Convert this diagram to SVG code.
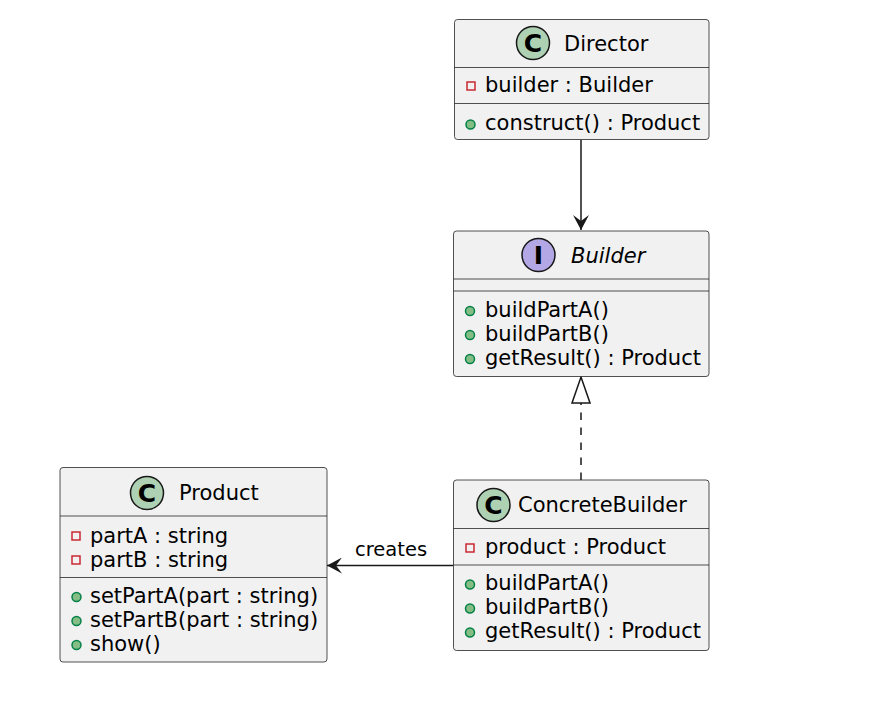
<svg xmlns="http://www.w3.org/2000/svg" width="878" height="707" viewBox="0 0 878 707">
<defs>
<style>
.box{fill:#F1F1F1;stroke:#181818;stroke-width:0.75}
.sep{stroke:#181818;stroke-width:0.75}
.t{font-family:"DejaVu Sans",sans-serif;font-size:21px;fill:#000}
.title{font-family:"DejaVu Sans",sans-serif;font-size:21px;fill:#000}
.lbl{font-family:"DejaVu Sans",sans-serif;font-size:19.5px;fill:#000}
.ci{fill:#ADD1B2;stroke:#181818;stroke-width:1.5}
.ii{fill:#B4A7E5;stroke:#181818;stroke-width:1.5}
.glyph{font-family:"DejaVu Sans",sans-serif;font-size:25px;font-weight:bold;fill:#000}
.priv{fill:none;stroke:#C82930;stroke-width:1.5}
.pub{fill:#84BE84;stroke:#038048;stroke-width:1.5}
.edge{stroke:#181818;stroke-width:1.5;fill:none}
</style>
<marker id="filled" viewBox="0 0 15 16" refX="15" refY="8" markerWidth="15" markerHeight="16" orient="auto" markerUnits="userSpaceOnUse">
<path d="M0,0 L15,8 L0,16 L6,8 Z" fill="#181818"/>
</marker>
<marker id="hollow" viewBox="0 0 28 20" refX="27" refY="10" markerWidth="28" markerHeight="20" orient="auto" markerUnits="userSpaceOnUse">
<path d="M1,1 L27,10 L1,19 Z" fill="#FFFFFF" stroke="#181818" stroke-width="1.5"/>
</marker>
</defs>
<rect width="878" height="707" fill="#FFFFFF"/>

<g id="connectors">
<line class="edge" x1="581" y1="140" x2="581" y2="230" marker-end="url(#filled)"/>
<line class="edge" x1="581" y1="480" x2="581" y2="377" stroke-dasharray="7.5,7.5" marker-end="url(#hollow)"/>
<line class="edge" x1="453" y1="565.5" x2="327" y2="565.5" marker-end="url(#filled)"/>
<text class="lbl" x="355" y="555.5">creates</text>
</g>

<g id="Director">
<rect class="box" x="454.5" y="19.5" width="254.5" height="120" rx="3"/>
<circle class="ci" cx="533" cy="43" r="16.5"/>
<text class="glyph" x="533" y="52" text-anchor="middle">C</text>
<text class="title" x="564" y="50.5">Director</text>
<line class="sep" x1="454.5" y1="67.5" x2="709" y2="67.5"/>
<rect class="priv" x="467" y="82" width="8" height="8"/>
<text class="t" x="485" y="92">builder : Builder</text>
<line class="sep" x1="454.5" y1="103.5" x2="709" y2="103.5"/>
<circle class="pub" cx="470.5" cy="124.5" r="4.5"/>
<text class="t" x="485" y="130">construct() : Product</text>
</g>

<g id="Builder">
<rect class="box" x="453.5" y="231" width="255.5" height="145.5" rx="3"/>
<circle class="ii" cx="538.5" cy="255" r="16.5"/>
<text class="glyph" x="538.5" y="264" text-anchor="middle">I</text>
<text class="title" x="571" y="262.5" font-style="italic">Builder</text>
<line class="sep" x1="453.5" y1="279" x2="709" y2="279"/>
<line class="sep" x1="453.5" y1="291" x2="709" y2="291"/>
<circle class="pub" cx="470" cy="311" r="4.5"/>
<text class="t" x="485" y="316.5">buildPartA()</text>
<circle class="pub" cx="470" cy="335" r="4.5"/>
<text class="t" x="485" y="340.5">buildPartB()</text>
<circle class="pub" cx="470" cy="359" r="4.5"/>
<text class="t" x="485" y="364.5">getResult() : Product</text>
</g>

<g id="ConcreteBuilder">
<rect class="box" x="453.5" y="480" width="255.5" height="170.5" rx="3"/>
<circle class="ci" cx="493.5" cy="505" r="16.5"/>
<text class="glyph" x="493.5" y="514" text-anchor="middle">C</text>
<text class="title" x="518" y="512">ConcreteBuilder</text>
<line class="sep" x1="453.5" y1="528.5" x2="709" y2="528.5"/>
<rect class="priv" x="466" y="544" width="8" height="8"/>
<text class="t" x="485" y="554">product : Product</text>
<line class="sep" x1="453.5" y1="565" x2="709" y2="565"/>
<circle class="pub" cx="470" cy="584.5" r="4.5"/>
<text class="t" x="485" y="590">buildPartA()</text>
<circle class="pub" cx="470" cy="608.5" r="4.5"/>
<text class="t" x="485" y="614">buildPartB()</text>
<circle class="pub" cx="470" cy="632.5" r="4.5"/>
<text class="t" x="485" y="638">getResult() : Product</text>
</g>

<g id="Product">
<rect class="box" x="60" y="467.5" width="267" height="194.5" rx="3"/>
<circle class="ci" cx="147" cy="493" r="16.5"/>
<text class="glyph" x="147" y="502" text-anchor="middle">C</text>
<text class="title" x="179" y="500">Product</text>
<line class="sep" x1="60" y1="516" x2="327" y2="516"/>
<rect class="priv" x="72" y="532" width="8" height="8"/>
<text class="t" x="90" y="542.5">partA : string</text>
<rect class="priv" x="72" y="556" width="8" height="8"/>
<text class="t" x="90" y="566.5">partB : string</text>
<line class="sep" x1="60" y1="577.5" x2="327" y2="577.5"/>
<circle class="pub" cx="76.5" cy="597" r="4.5"/>
<text class="t" x="90" y="602.5">setPartA(part : string)</text>
<circle class="pub" cx="76.5" cy="621" r="4.5"/>
<text class="t" x="90" y="626.5">setPartB(part : string)</text>
<circle class="pub" cx="76.5" cy="645" r="4.5"/>
<text class="t" x="90" y="650.5">show()</text>
</g>
</svg>
